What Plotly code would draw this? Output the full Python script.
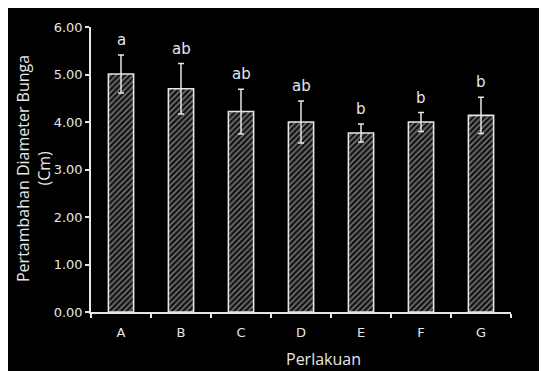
import plotly.graph_objects as go

categories = ["A", "B", "C", "D", "E", "F", "G"]
means = [5.01, 4.70, 4.22, 4.00, 3.77, 4.00, 4.14]
errors = [0.40, 0.53, 0.47, 0.44, 0.19, 0.20, 0.38]
letters = ["a", "ab", "ab", "ab", "b", "b", "b"]
yticks = [0, 1, 2, 3, 4, 5, 6]
ytick_labels = ["0.00", "1.00", "2.00", "3.00", "4.00", "5.00", "6.00"]

# page body keeps its default 8px margin, which gives the white top/left border
W, H = 539, 363
L, R, T, B = 83, 36, 17, 59
PW, PH = W - L - R, H - T - B
FG = "#e6e6e6"

fig = go.Figure()
fig.add_trace(go.Bar(
    x=categories, y=means, width=0.42,
    marker=dict(color="black", line=dict(color=FG, width=1.6),
                pattern=dict(shape="/", fgcolor="#d8d8d8", bgcolor="#111111", size=4, solidity=0.4)),
    error_y=dict(type="data", array=errors, visible=True, color=FG, thickness=1.5, width=3),
    showlegend=False,
))

for c, m, e, t in zip(categories, means, errors, letters):
    fig.add_annotation(x=c, y=m + e, text=t, showarrow=False, yanchor="bottom", yshift=4,
                       font=dict(family="DejaVu Sans", size=15, color=FG))

fig.add_annotation(xref="paper", yref="paper", x=(315 - L) / PW, y=-(351 - (H - B)) / PH,
                   text="Perlakuan", showarrow=False, xanchor="center", yanchor="middle",
                   font=dict(family="Open Sans", size=16, color=FG))

fig.add_annotation(xref="paper", yref="paper", x=(25 - L) / PW, y=(H - B - 160) / PH,
                   text="Pertambahan Diameter Bunga<br>(Cm)", showarrow=False, textangle=-90,
                   xanchor="center", yanchor="middle",
                   font=dict(family="Open Sans", size=16, color=FG))

fig.update_layout(
    width=W, height=H,
    margin=dict(l=L, r=R, t=T, b=B),
    paper_bgcolor="black", plot_bgcolor="black",
    font=dict(family="DejaVu Sans", size=13, color=FG),
    xaxis=dict(showline=True, linecolor=FG, linewidth=1.5, ticks="outside", tickson="boundaries",
               ticklen=4, tickcolor=FG, tickwidth=1.5, showgrid=False, zeroline=False,
               ticklabelstandoff=8,
               tickfont=dict(family="DejaVu Sans", size=13, color=FG)),
    yaxis=dict(range=[0, 6], tickvals=yticks, ticktext=ytick_labels, showline=True, linecolor=FG,
               linewidth=1.5, ticks="outside", ticklen=4, tickcolor=FG, tickwidth=1.5,
               showgrid=False, zeroline=False,
               tickfont=dict(family="DejaVu Sans", size=13, color=FG)),
)

fig.write_html("out.html")
